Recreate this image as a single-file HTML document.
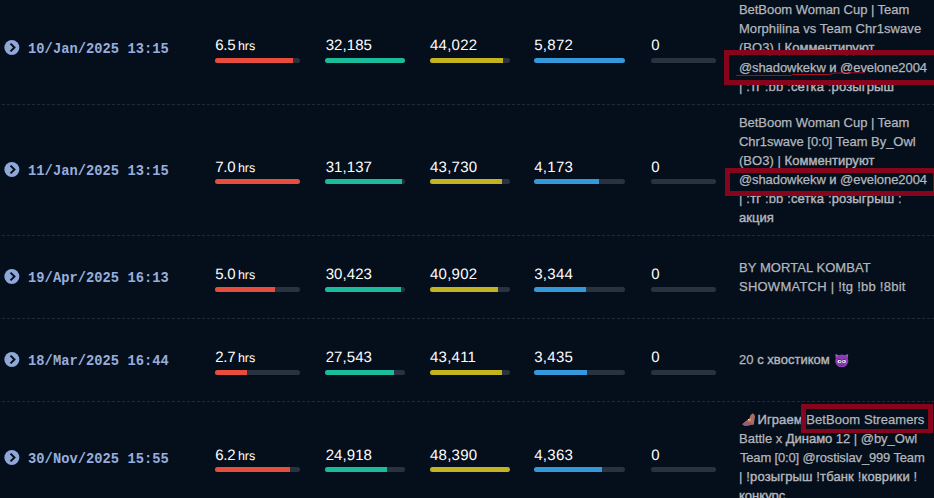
<!DOCTYPE html>
<html><head><meta charset="utf-8"><title>streams</title>
<style>
html,body{margin:0;padding:0;background:#050e1b;}
body{width:934px;height:498px;overflow:hidden;position:relative;font-family:"Liberation Sans",sans-serif;}
.a{position:absolute;white-space:nowrap;}
.sep{position:absolute;left:2px;right:0;height:1px;background:repeating-linear-gradient(90deg,#1f2a38 0,#1f2a38 3px,transparent 3px,transparent 5px);}
.ic{position:absolute;left:4px;width:16px;height:15px;}
.dt{position:absolute;font-family:"Liberation Mono",monospace;font-weight:bold;font-size:13.75px;line-height:16px;height:16px;color:#97aedd;white-space:pre;}
.n{position:absolute;text-rendering:geometricPrecision;font-size:15px;line-height:18px;height:18px;color:#fff;white-space:pre;}
.s{font-size:12.5px;}
.bar{position:absolute;height:5px;border-radius:2.5px;background:#29333f;overflow:hidden;}
.bar i{display:block;height:5px;}
.d{position:absolute;font-size:13px;line-height:19px;height:19px;color:#b3b7bd;white-space:pre;-webkit-text-stroke:0.25px #b3b7bd;}
.c{-webkit-text-stroke:0.4px #b3b7bd;}
.box{position:absolute;border:5px solid #87051c;box-sizing:border-box;}
</style></head><body>
<div class="sep" style="top:104px"></div>
<div class="sep" style="top:235px"></div>
<div class="sep" style="top:318px"></div>
<div class="sep" style="top:401px"></div>
<svg class="ic" style="top:40px" viewBox="0 0 16 15"><circle cx="7.85" cy="7.5" r="7.5" fill="#8fa8d8"/><path d="M6.5 3.6 L10.45 7.5 L6.5 11.4" fill="none" stroke="#050e1b" stroke-width="2" stroke-linecap="butt" stroke-linejoin="miter"/></svg>
<div class="dt" id="dt0" style="left:28.05px;top:42px;letter-spacing:0.031px">10/Jan/2025 13:15</div>
<div class="n" id="n00" style="left:215.22px;top:37px;letter-spacing:-0.200px">6.5</div>
<div class="n s" id="h0" style="left:237.98px;top:37px;letter-spacing:-0.100px">hrs</div>
<div class="n" id="n01" style="left:325.66px;top:37px;letter-spacing:0.080px">32,185</div>
<div class="n" id="n02" style="left:430.00px;top:37px;letter-spacing:0.240px">44,022</div>
<div class="n" id="n03" style="left:534.20px;top:37px;letter-spacing:0.300px">5,872</div>
<div class="n" id="n04" style="left:651.22px;top:37px">0</div>
<div class="bar" style="left:215px;top:58px;width:85px"><i style="width:78.3px;background:#e74c3c"></i></div>
<div class="bar" style="left:325px;top:58px;width:80px"><i style="width:80.0px;background:#1abc9c"></i></div>
<div class="bar" style="left:430px;top:58px;width:80px"><i style="width:72.8px;background:#c3b31f"></i></div>
<div class="bar" style="left:534px;top:58px;width:91px"><i style="width:91.0px;background:#3498db"></i></div>
<div class="bar" style="left:651px;top:58px;width:65px"></div>
<svg class="ic" style="top:162px" viewBox="0 0 16 15"><circle cx="7.85" cy="7.5" r="7.5" fill="#8fa8d8"/><path d="M6.5 3.6 L10.45 7.5 L6.5 11.4" fill="none" stroke="#050e1b" stroke-width="2" stroke-linecap="butt" stroke-linejoin="miter"/></svg>
<div class="dt" id="dt1" style="left:28.05px;top:164px;letter-spacing:0.031px">11/Jan/2025 13:15</div>
<div class="n" id="n10" style="left:215.22px;top:159px;letter-spacing:-0.200px">7.0</div>
<div class="n s" id="h1" style="left:237.98px;top:159px;letter-spacing:-0.100px">hrs</div>
<div class="n" id="n11" style="left:325.66px;top:159px;letter-spacing:0.080px">31,137</div>
<div class="n" id="n12" style="left:430.00px;top:159px;letter-spacing:0.240px">43,730</div>
<div class="n" id="n13" style="left:534.20px;top:159px;letter-spacing:0.300px">4,173</div>
<div class="n" id="n14" style="left:651.22px;top:159px">0</div>
<div class="bar" style="left:215px;top:179px;width:85px"><i style="width:85.0px;background:#e74c3c"></i></div>
<div class="bar" style="left:325px;top:179px;width:80px"><i style="width:77.4px;background:#1abc9c"></i></div>
<div class="bar" style="left:430px;top:179px;width:80px"><i style="width:72.3px;background:#c3b31f"></i></div>
<div class="bar" style="left:534px;top:179px;width:91px"><i style="width:64.7px;background:#3498db"></i></div>
<div class="bar" style="left:651px;top:179px;width:65px"></div>
<svg class="ic" style="top:269px" viewBox="0 0 16 15"><circle cx="7.85" cy="7.5" r="7.5" fill="#8fa8d8"/><path d="M6.5 3.6 L10.45 7.5 L6.5 11.4" fill="none" stroke="#050e1b" stroke-width="2" stroke-linecap="butt" stroke-linejoin="miter"/></svg>
<div class="dt" id="dt2" style="left:28.05px;top:271px;letter-spacing:0.031px">19/Apr/2025 16:13</div>
<div class="n" id="n20" style="left:215.22px;top:266px;letter-spacing:-0.200px">5.0</div>
<div class="n s" id="h2" style="left:237.98px;top:266px;letter-spacing:-0.100px">hrs</div>
<div class="n" id="n21" style="left:325.66px;top:266px;letter-spacing:0.080px">30,423</div>
<div class="n" id="n22" style="left:430.00px;top:266px;letter-spacing:0.240px">40,902</div>
<div class="n" id="n23" style="left:534.20px;top:266px;letter-spacing:0.300px">3,344</div>
<div class="n" id="n24" style="left:651.22px;top:266px">0</div>
<div class="bar" style="left:215px;top:287px;width:85px"><i style="width:60.0px;background:#e74c3c"></i></div>
<div class="bar" style="left:325px;top:287px;width:80px"><i style="width:75.6px;background:#1abc9c"></i></div>
<div class="bar" style="left:430px;top:287px;width:80px"><i style="width:67.6px;background:#c3b31f"></i></div>
<div class="bar" style="left:534px;top:287px;width:91px"><i style="width:51.8px;background:#3498db"></i></div>
<div class="bar" style="left:651px;top:287px;width:65px"></div>
<svg class="ic" style="top:352px" viewBox="0 0 16 15"><circle cx="7.85" cy="7.5" r="7.5" fill="#8fa8d8"/><path d="M6.5 3.6 L10.45 7.5 L6.5 11.4" fill="none" stroke="#050e1b" stroke-width="2" stroke-linecap="butt" stroke-linejoin="miter"/></svg>
<div class="dt" id="dt3" style="left:28.05px;top:354px;letter-spacing:0.031px">18/Mar/2025 16:44</div>
<div class="n" id="n30" style="left:215.22px;top:349px;letter-spacing:-0.200px">2.7</div>
<div class="n s" id="h3" style="left:237.98px;top:349px;letter-spacing:-0.100px">hrs</div>
<div class="n" id="n31" style="left:325.66px;top:349px;letter-spacing:0.080px">27,543</div>
<div class="n" id="n32" style="left:430.00px;top:349px;letter-spacing:0.240px">43,411</div>
<div class="n" id="n33" style="left:534.20px;top:349px;letter-spacing:0.300px">3,435</div>
<div class="n" id="n34" style="left:651.22px;top:349px">0</div>
<div class="bar" style="left:215px;top:370px;width:85px"><i style="width:32.2px;background:#e74c3c"></i></div>
<div class="bar" style="left:325px;top:370px;width:80px"><i style="width:68.5px;background:#1abc9c"></i></div>
<div class="bar" style="left:430px;top:370px;width:80px"><i style="width:71.8px;background:#c3b31f"></i></div>
<div class="bar" style="left:534px;top:370px;width:91px"><i style="width:53.2px;background:#3498db"></i></div>
<div class="bar" style="left:651px;top:370px;width:65px"></div>
<svg class="ic" style="top:450px" viewBox="0 0 16 15"><circle cx="7.85" cy="7.5" r="7.5" fill="#8fa8d8"/><path d="M6.5 3.6 L10.45 7.5 L6.5 11.4" fill="none" stroke="#050e1b" stroke-width="2" stroke-linecap="butt" stroke-linejoin="miter"/></svg>
<div class="dt" id="dt4" style="left:28.05px;top:452px;letter-spacing:0.031px">30/Nov/2025 15:55</div>
<div class="n" id="n40" style="left:215.22px;top:447px;letter-spacing:-0.200px">6.2</div>
<div class="n s" id="h4" style="left:237.98px;top:447px;letter-spacing:-0.100px">hrs</div>
<div class="n" id="n41" style="left:325.66px;top:447px;letter-spacing:0.080px">24,918</div>
<div class="n" id="n42" style="left:430.00px;top:447px;letter-spacing:0.240px">48,390</div>
<div class="n" id="n43" style="left:534.20px;top:447px;letter-spacing:0.300px">4,363</div>
<div class="n" id="n44" style="left:651.22px;top:447px">0</div>
<div class="bar" style="left:215px;top:467px;width:85px"><i style="width:75.1px;background:#e74c3c"></i></div>
<div class="bar" style="left:325px;top:467px;width:80px"><i style="width:61.9px;background:#1abc9c"></i></div>
<div class="bar" style="left:430px;top:467px;width:80px"><i style="width:80.0px;background:#c3b31f"></i></div>
<div class="bar" style="left:534px;top:467px;width:91px"><i style="width:67.6px;background:#3498db"></i></div>
<div class="bar" style="left:651px;top:467px;width:65px"></div>
<div class="d" id="d0" style="left:738.98px;top:0px;letter-spacing:-0.043px">BetBoom Woman Cup | Team</div>
<div class="d" id="d1" style="left:738.98px;top:19px;letter-spacing:0.067px">Morphilina vs Team Chr1swave</div>
<div class="d" id="d2" style="left:738.98px;top:38px;letter-spacing:0.042px">(BO3) | <span class="c">Комментируют</span></div>
<div class="d" id="d3" style="left:738.88px;top:58px;letter-spacing:-0.064px">@shadowkekw <span class="c">и</span> @evelone2004</div>
<div class="d" id="d4" style="left:739.08px;top:77px;letter-spacing:0.144px">| :<span class="c">тг</span> :bb :<span class="c">сетка</span> :<span class="c">розыгрыш</span></div>
<div class="d" id="d5" style="left:738.98px;top:113px;letter-spacing:-0.043px">BetBoom Woman Cup | Team</div>
<div class="d" id="d6" style="left:738.98px;top:132px;letter-spacing:-0.031px">Chr1swave [0:0] Team By_Owl</div>
<div class="d" id="d7" style="left:738.98px;top:151px;letter-spacing:0.042px">(BO3) | <span class="c">Комментируют</span></div>
<div class="d" id="d8" style="left:738.88px;top:170px;letter-spacing:-0.064px">@shadowkekw <span class="c">и</span> @evelone2004</div>
<div class="d" id="d9" style="left:739.08px;top:189px;letter-spacing:0.148px">| :<span class="c">тг</span> :bb :<span class="c">сетка</span> :<span class="c">розыгрыш</span> :</div>
<div class="d" id="d10" style="left:738.98px;top:208px;letter-spacing:0.050px"><span class="c">акция</span></div>
<div class="d" id="d11" style="left:738.98px;top:258px;letter-spacing:0.067px">BY MORTAL KOMBAT</div>
<div class="d" id="d12" style="left:738.98px;top:277px;letter-spacing:0.242px">SHOWMATCH | !tg !bb !8bit</div>
<div class="d" id="d13" style="left:738.98px;top:350px;letter-spacing:0.031px">20 <span class="c">с</span> <span class="c">хвостиком</span></div>
<div class="d" id="d14" style="left:757.54px;top:410px;letter-spacing:0.080px"><span class="c">Играем</span></div>
<div class="d" id="d15" style="left:806.32px;top:410px;letter-spacing:0.062px">BetBoom Streamers</div>
<div class="d" id="d16" style="left:739.10px;top:429px;letter-spacing:-0.030px">Battle x <span class="c">Динамо</span> 12 | @by_Owl</div>
<div class="d" id="d17" style="left:739.90px;top:448px;letter-spacing:-0.152px">Team [0:0] @rostislav_999 Team</div>
<div class="d" id="d18" style="left:739.08px;top:467px;letter-spacing:0.136px">| !<span class="c">розыгрыш</span> !<span class="c">тбанк</span> !<span class="c">коврики</span> !</div>
<div class="d" id="d19" style="left:738.98px;top:486px;letter-spacing:0.033px"><span class="c">конкурс</span></div>
<svg class="a" style="left:835px;top:353.8px" width="13.5" height="13.5" viewBox="0 0 13.5 13.5"><path d="M0.3 0.1 L4 1.2 L0.8 4.6 Z" fill="#a35fd0"/><path d="M13.2 0.1 L9.5 1.2 L12.7 4.6 Z" fill="#9a50c8"/><ellipse cx="6.75" cy="6.95" rx="6.65" ry="6.5" fill="#8a3cb6"/><ellipse cx="4.5" cy="7.4" rx="1.9" ry="1.7" fill="#ececf0"/><ellipse cx="9" cy="7.4" rx="1.9" ry="1.7" fill="#ececf0"/><circle cx="4.75" cy="7.5" r="0.75" fill="#3e2636"/><circle cx="8.75" cy="7.5" r="0.75" fill="#3e2636"/><path d="M2.9 4.7 L5.9 6 M10.6 4.7 L7.6 6" stroke="#4a1a6c" stroke-width="0.9" fill="none"/><path d="M4.4 10.6 Q6.75 12.3 9.1 10.6" stroke="#5a2080" stroke-width="0.8" fill="none"/></svg>
<svg class="a" style="left:742px;top:413px" width="13.5" height="13" viewBox="0 0 13.5 13"><path d="M10.6 0.2 L12.4 1.6 L13 4.2 L12.5 6.6 L12.2 9 L11.9 11.4 L9.4 11.8 L6.2 12.5 L2.6 12.7 L0.1 11.2 L2.2 9.4 L4.6 7.4 L7.4 5.6 L8.3 2.6 Z" fill="#a96d65"/><path d="M0.1 11.2 L4 8.2 L8 9.4 L11.9 11.4 L9.4 11.8 L6.2 12.5 L2.6 12.7 Z" fill="#9a5b72"/><ellipse cx="7.6" cy="6.9" rx="1.7" ry="1.2" transform="rotate(-35 7.6 6.9)" fill="#dc9a5c"/><circle cx="6.5" cy="6.5" r="0.6" fill="#f1e6dc"/></svg>
<div class="box" style="left:724px;top:50px;width:230px;height:35px"></div>
<div class="box" style="left:725px;top:168.2px;width:213px;height:27.4px"></div>
<div class="box" style="left:801px;top:404px;width:132px;height:29.4px;border-bottom-width:4.5px"></div>
<svg class="a" style="left:730px;top:66px" width="140" height="14" viewBox="0 0 140 14"><path d="M6 9.4 L61.5 9.4 L62.5 8.5 L99.5 8.5 L104.5 7.1 L135 6.7" fill="none" stroke="#a80f24" stroke-width="1"/></svg>
</body></html>
